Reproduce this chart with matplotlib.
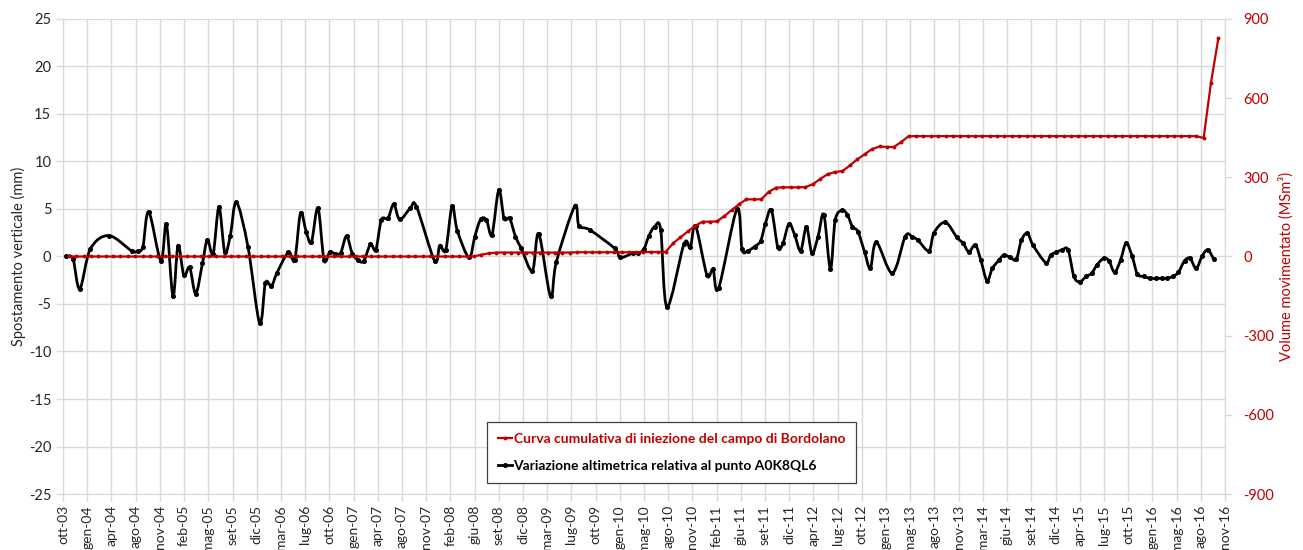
import numpy as np
import pandas as pd
import matplotlib
matplotlib.use("Agg")
import matplotlib.pyplot as plt
import matplotlib.dates as mdates
from matplotlib.path import Path
from matplotlib.patches import PathPatch
from matplotlib.lines import Line2D

plt.rcParams["font.family"] = ["Lato", "DejaVu Sans"]
plt.rcParams["axes.unicode_minus"] = False

ROSSO = "#C00000"
GRIGIO = "#D9D9D9"
TESTO = "#262626"

# asse delle date: un'etichetta ogni 100 giorni (come in Excel)
x_inizio = "2003-10-07"
passo_giorni = 100
etichette_x = [
    "ott-03", "gen-04", "apr-04", "ago-04", "nov-04", "feb-05", "mag-05", "set-05",
    "dic-05", "mar-06", "lug-06", "ott-06", "gen-07", "apr-07", "ago-07", "nov-07",
    "feb-08", "giu-08", "set-08", "dic-08", "mar-09", "lug-09", "ott-09", "gen-10",
    "mag-10", "ago-10", "nov-10", "feb-11", "giu-11", "set-11", "dic-11", "apr-12",
    "lug-12", "ott-12", "gen-13", "mag-13", "ago-13", "nov-13", "mar-14", "giu-14",
    "set-14", "dic-14", "apr-15", "lug-15", "ott-15", "gen-16", "mag-16", "ago-16",
    "nov-16",
]

# variazione altimetrica del punto A0K8QL6 (mm)
date_spost = [
    "2003-10-21", "2003-11-17", "2003-12-15", "2004-01-28", "2004-04-13", "2004-07-16",
    "2004-08-12", "2004-09-01", "2004-09-25", "2004-11-14", "2004-12-07", "2005-01-03",
    "2005-01-24", "2005-02-17", "2005-03-13", "2005-04-07", "2005-05-05", "2005-05-25",
    "2005-06-18", "2005-07-12", "2005-08-05", "2005-08-28", "2005-09-22", "2005-11-09",
    "2005-12-27", "2006-01-20", "2006-02-14", "2006-03-09", "2006-04-25", "2006-05-21",
    "2006-06-14", "2006-07-08", "2006-07-29", "2006-08-25", "2006-09-19", "2006-10-13",
    "2006-11-02", "2006-11-27", "2006-12-21", "2007-01-14", "2007-02-06", "2007-03-02",
    "2007-03-30", "2007-04-21", "2007-05-14", "2007-06-10", "2007-07-04", "2007-07-29",
    "2007-09-11", "2007-10-06", "2007-12-20", "2008-01-10", "2008-02-04", "2008-03-01",
    "2008-03-23", "2008-05-10", "2008-06-03", "2008-06-27", "2008-07-21", "2008-08-13",
    "2008-09-10", "2008-10-02", "2008-10-25", "2008-11-18", "2008-12-12", "2009-01-27",
    "2009-02-22", "2009-04-12", "2009-05-06", "2009-07-21", "2009-08-07", "2009-09-21",
    "2010-01-02", "2010-01-25", "2010-03-18", "2010-04-08", "2010-05-02", "2010-05-23",
    "2010-06-16", "2010-07-11", "2010-08-06", "2010-10-15", "2010-11-10", "2010-12-02",
    "2011-01-18", "2011-02-12", "2011-03-07", "2011-05-22", "2011-06-12", "2011-07-06",
    "2011-08-03", "2011-08-28", "2011-09-16", "2011-10-11", "2011-11-07", "2011-11-28",
    "2011-12-23", "2012-01-15", "2012-02-09", "2012-03-04", "2012-03-27", "2012-04-21",
    "2012-05-15", "2012-06-11", "2012-07-01", "2012-07-30", "2012-08-20", "2012-09-10",
    "2012-10-03", "2012-10-30", "2012-11-23", "2012-12-18", "2013-02-22", "2013-04-16",
    "2013-05-14", "2013-06-08", "2013-07-23", "2013-08-13", "2013-09-29", "2013-11-16",
    "2013-12-11", "2014-01-04", "2014-01-31", "2014-02-22", "2014-03-20", "2014-04-11",
    "2014-05-08", "2014-05-29", "2014-06-24", "2014-07-19", "2014-08-09", "2014-09-03",
    "2014-09-26", "2014-11-18", "2014-12-08", "2015-01-01", "2015-01-24", "2015-02-18",
    "2015-03-14", "2015-04-07", "2015-05-04", "2015-05-27", "2015-06-17", "2015-07-15",
    "2015-08-06", "2015-08-29", "2015-09-23", "2015-10-16", "2015-11-10", "2015-12-01",
    "2015-12-28", "2016-01-24", "2016-02-17", "2016-03-10", "2016-04-01", "2016-04-26",
    "2016-05-19", "2016-06-13", "2016-07-06", "2016-07-31", "2016-08-25", "2016-09-17",
    "2016-10-12",
]
spost_mm = [
    0.0, -0.25, -3.4, 0.8, 2.2, 0.6,
    0.6, 1.05, 4.7, -0.45, 3.4, -4.15,
    1.15, -2.0, -1.15, -3.9, -0.7, 1.75,
    0.3, 5.2, 0.45, 2.2, 5.7, 1.0,
    -7.0, -2.8, -3.1, -1.7, 0.45, -0.35,
    4.55, 2.55, 1.5, 5.1, -0.35, 0.5,
    0.3, 0.4, 2.15, 0.3, -0.35, -0.5,
    1.3, 0.7, 3.85, 4.0, 5.5, 3.9,
    5.1, 5.25, -0.45, 1.15, 0.7, 5.3,
    2.7, -0.1, 2.1, 3.9, 3.85, 2.3,
    7.0, 4.0, 4.0, 2.1, 0.85, -1.5,
    2.4, -4.2, -0.55, 5.3, 3.25, 2.8,
    0.85, -0.1, 0.35, 0.35, 0.75, 2.15,
    3.15, 2.8, -5.3, 1.3, 0.95, 3.2,
    -1.95, -1.35, -3.35, 5.0, 0.75, 0.6,
    1.05, 1.65, 3.4, 4.9, 0.95, 1.4,
    3.45, 2.3, 0.6, 3.1, 0.35, 2.1,
    4.4, -1.3, 3.85, 4.85, 4.4, 3.15,
    2.6, 0.5, -1.25, 1.5, -1.75, 2.1,
    2.1, 1.7, 0.6, 2.5, 3.6, 2.0,
    1.4, 0.5, 1.2, -0.35, -2.55, -1.25,
    -0.4, 0.15, -0.1, -0.3, 1.7, 2.45,
    1.2, -0.65, 0.15, 0.45, 0.7, 0.7,
    -2.1, -2.65, -2.1, -1.75, -0.9, -0.2,
    -0.45, -1.65, -0.35, 1.4, 0.0, -1.85,
    -2.1, -2.3, -2.3, -2.3, -2.3, -2.1,
    -1.65, -0.45, -0.2, -1.25, 0.05, 0.7,
    -0.3,
]

# curva cumulativa mensile di iniezione, campo di Bordolano (MSm3)
vol_inizio = "2003-10-01"
volume_msm3 = (
    [0.0] * 56
    + [7, 12, 15]
    + [15] * 10 + [16] * 9 + [17] * 4
    + [50, 72, 95, 116, 132,
       132, 133, 153, 176, 198, 217, 216, 217, 245, 261, 262, 262,
       262, 263, 274, 294, 312, 320, 324, 345, 368, 388, 407, 417,
       415, 415, 434, 456]
    + [456] * 39
    + [449, 657, 828]
)

etichetta_rossa = "Curva cumulativa di iniezione del campo di Bordolano"
etichetta_nera = "Variazione altimetrica relativa al punto A0K8QL6"


def _curva_liscia(x, y):
    # linea smussata tipo Excel (Catmull-Rom -> Bezier)
    p = np.column_stack([x, y])
    pp = np.vstack([p[0], p, p[-1]])
    verts = [p[0]]
    codes = [Path.MOVETO]
    for i in range(len(p) - 1):
        p0, p1, p2, p3 = pp[i], pp[i + 1], pp[i + 2], pp[i + 3]
        verts += [p1 + (p2 - p0) / 6.0, p2 - (p3 - p1) / 6.0, p2]
        codes += [Path.CURVE4] * 3
    return Path(verts, codes)


tick_x = pd.Timestamp(x_inizio) + pd.to_timedelta(np.arange(len(etichette_x)) * passo_giorni, unit="D")
t_spost = pd.to_datetime(date_spost)
t_vol = pd.date_range(vol_inizio, periods=len(volume_msm3), freq="MS") + pd.offsets.MonthEnd(0)

fig = plt.figure(figsize=(13.03, 5.5), dpi=100)
ax = fig.add_subplot(111)
fig.subplots_adjust(left=0.0484, right=0.9401, top=0.9655, bottom=0.1018)
ax2 = ax.twinx()

# serie altimetrica
ax.plot(t_spost, spost_mm, linestyle="none", marker="o", ms=2.6, color="black", zorder=3)
xs = mdates.date2num(t_spost)
ax.add_patch(PathPatch(_curva_liscia(xs, np.asarray(spost_mm)), facecolor="none",
                       edgecolor="black", lw=2.0, zorder=3))

# curva di iniezione
ax2.plot(t_vol, volume_msm3, color=ROSSO, lw=1.6, marker="o", ms=1.8, zorder=3)

ax.set_xlim(tick_x[0], tick_x[-1])
ax.set_ylim(-25, 25)
ax.set_yticks(np.arange(-25, 26, 5))
ax2.set_ylim(-900, 900)
ax2.set_yticks(np.arange(-900, 901, 300))

ax.set_xticks(tick_x)
ax.set_xticklabels(etichette_x, rotation=90)

ax.grid(True, color=GRIGIO, lw=1.0)
ax.set_axisbelow(True)

for s in ["top", "right"]:
    ax.spines[s].set_visible(False)
for s in ["top", "left", "bottom"]:
    ax2.spines[s].set_visible(False)
ax.spines["left"].set_color(GRIGIO)
ax.spines["bottom"].set_color(GRIGIO)
ax2.spines["right"].set_color(GRIGIO)

ax.tick_params(axis="both", colors=GRIGIO, length=5, width=1, labelsize=10.5, labelcolor=TESTO)
ax.tick_params(axis="x", pad=3, labelsize=10)
ax2.tick_params(axis="y", colors=GRIGIO, length=5, width=1, labelsize=10.5, labelcolor=ROSSO, pad=8)

ax.set_ylabel("Spostamento verticale (mm)", fontsize=10.5, color=TESTO)
ax.yaxis.set_label_coords(-0.032, 0.5)
ax2.set_ylabel("Volume movimentato (MSm³)", fontsize=10.5, color=ROSSO, rotation=90)
ax2.yaxis.set_label_coords(1.046, 0.48)

handles = [
    Line2D([], [], color=ROSSO, lw=1.6, marker="o", ms=1.8),
    Line2D([], [], color="black", lw=2.0, marker="o", ms=2.6),
]
leg = ax2.legend(handles, [etichetta_rossa, etichetta_nera], loc="lower left",
                 bbox_to_anchor=(0.365, 0.023), borderaxespad=0, fancybox=False,
                 edgecolor="#404040", framealpha=1, handlelength=1.0, handletextpad=0.1,
                 labelspacing=1.1, borderpad=0.8, prop={"size": 10, "weight": "bold"})
leg.get_frame().set_linewidth(0.9)
leg.get_texts()[0].set_color(ROSSO)
leg.get_texts()[1].set_color("black")

fig.savefig("out.png", dpi=100)
